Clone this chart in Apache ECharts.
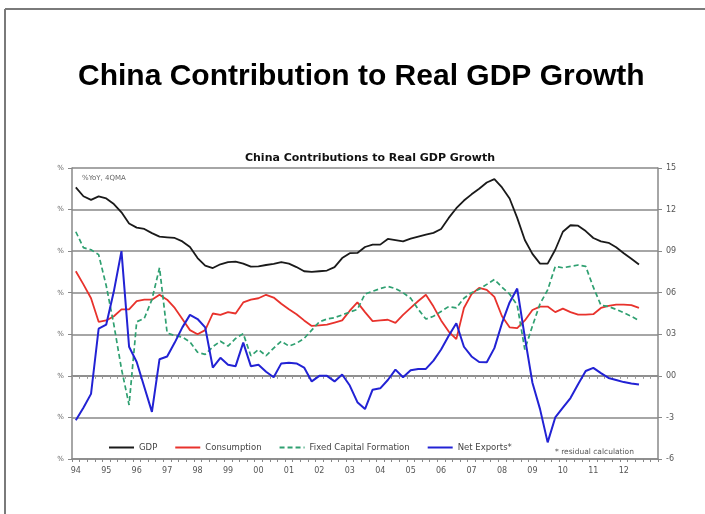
<!DOCTYPE html>
<html>
<head>
<meta charset="utf-8">
<script src="https://cdn.jsdelivr.net/npm/echarts@6/dist/echarts.min.js"></script>
<style>
  html, body { margin: 0; padding: 0; background: #fff; }
  #chart { width: 705px; height: 514px; }
</style>
</head>
<body>
<div id="chart"></div>
<script>
// year labels, one per Q1 (axis runs 94Q1 .. 13Q1, last label left blank)
const years = ['94', '95', '96', '97', '98', '99', '00', '01', '02', '03', '04', '05', '06', '07', '08', '09', '10', '11', '12', '13'];
const quarters = ['Q1', 'Q2', 'Q3', 'Q4'];

// %YoY, 4QMA, quarterly from 94Q1 to 12Q3
const gdp = [13.6, 12.96, 12.7, 12.95, 12.8, 12.4, 11.8, 11.0, 10.7, 10.6, 10.3, 10.05, 10.0, 9.95, 9.7, 9.3,
  8.5, 7.95, 7.78, 8.05, 8.2, 8.25, 8.1, 7.88, 7.9, 8.0, 8.08, 8.2, 8.1, 7.85, 7.55, 7.5,
  7.55, 7.6, 7.85, 8.5, 8.85, 8.87, 9.3, 9.47, 9.47, 9.88, 9.8, 9.71, 9.9, 10.05, 10.19, 10.32,
  10.6, 11.4, 12.1, 12.65, 13.1, 13.5, 13.95, 14.2, 13.6, 12.8, 11.4, 9.8, 8.8, 8.1, 8.1, 9.1,
  10.4, 10.87, 10.84, 10.45, 9.95, 9.7, 9.6, 9.28, 8.85, 8.45, 8.03];
const consumption = [7.55, 6.6, 5.6, 3.9, 4.0, 4.3, 4.8, 4.8, 5.4, 5.5, 5.5, 5.85, 5.5, 4.9, 4.1, 3.3,
  3.0, 3.3, 4.5, 4.4, 4.6, 4.5, 5.3, 5.5, 5.6, 5.85, 5.65, 5.2, 4.8, 4.45, 4.0, 3.6,
  3.65, 3.7, 3.85, 4.0, 4.7, 5.3, 4.6, 3.95, 4.0, 4.05, 3.82, 4.4, 4.9, 5.4, 5.85, 5.0,
  4.0, 3.2, 2.65, 4.9, 5.9, 6.35, 6.2, 5.7, 4.3, 3.5, 3.45, 4.0, 4.75, 5.0, 5.0, 4.6,
  4.85, 4.6, 4.42, 4.42, 4.45, 4.9, 5.05, 5.14, 5.14, 5.1, 4.9];
const fixedCapital = [10.4, 9.25, 9.1, 8.75, 6.5, 3.7, 0.5, -2.1, 3.9, 4.15, 5.5, 7.8, 3.1, 2.9, 2.8, 2.45,
  1.7, 1.55, 2.1, 2.5, 2.15, 2.7, 3.05, 1.45, 1.9, 1.45, 2.0, 2.5, 2.15, 2.35, 2.7, 3.3,
  3.9, 4.1, 4.2, 4.4, 4.6, 4.8, 5.9, 6.1, 6.3, 6.46, 6.3, 6.0, 5.6, 4.8, 4.1, 4.3,
  4.65, 5.0, 4.9, 5.6, 6.0, 6.25, 6.6, 6.95, 6.4, 5.9, 5.1, 1.9, 3.6, 5.2, 6.2, 7.9,
  7.8, 7.9, 8.0, 7.9, 6.4, 5.1, 5.0, 4.8, 4.55, 4.3, 4.0];
const netExports = [-3.2, -2.3, -1.3, 3.4, 3.7, 6.1, 9.0, 2.1, 1.0, -0.8, -2.6, 1.2, 1.4, 2.4, 3.5, 4.4,
  4.1, 3.5, 0.6, 1.3, 0.8, 0.7, 2.4, 0.7, 0.8, 0.3, -0.1, 0.9, 0.95, 0.9, 0.6, -0.4,
  0.0, 0.0, -0.4, 0.1, -0.7, -1.9, -2.4, -1.0, -0.9, -0.3, 0.45, -0.1, 0.4, 0.5, 0.5, 1.1,
  1.9, 2.9, 3.8, 2.1, 1.4, 1.0, 0.98, 2.0, 3.8, 5.3, 6.3, 2.8, -0.5, -2.4, -4.8, -3.0,
  -2.3, -1.6, -0.6, 0.35, 0.58, 0.2, -0.15, -0.3, -0.45, -0.55, -0.63];

const rightTicks = { '15': '15', '12': '12', '9': '09', '6': '06', '3': '03', '0': '00', '-3': '-3', '-6': '-6' };

const categories = [];
years.forEach(y => quarters.forEach(q => categories.push(y + q)));
categories.length = 77;

const chart = echarts.init(document.getElementById('chart'));

const axisGray = '#888';
const smallText = { fontFamily: 'DejaVu Sans', fontSize: 8, color: '#555' };

const option = {
  backgroundColor: '#fff',
  animation: false,
  title: [
    {
      text: 'China Contribution to Real GDP Growth',
      left: 73, top: 57,
      textStyle: { fontFamily: 'Liberation Sans', fontWeight: 'bold', fontSize: 30, color: '#000' }
    },
    {
      text: 'China Contributions to Real GDP Growth',
      left: 365, top: 148, textAlign: 'center',
      textStyle: { fontFamily: 'DejaVu Sans', fontWeight: 'bold', fontSize: 11, color: '#111' }
    }
  ],
  graphic: [
    { type: 'line', shape: { x1: 5, y1: 9, x2: 705, y2: 9 }, style: { stroke: '#7a7a7a', lineWidth: 2 } },
    { type: 'line', shape: { x1: 5, y1: 9, x2: 5, y2: 514 }, style: { stroke: '#7a7a7a', lineWidth: 2 } },
    { type: 'text', left: 82, top: 175, style: { text: '%YoY, 4QMA', font: '7px "DejaVu Sans"', fill: '#666' } },
    { type: 'text', left: 555, top: 448, style: { text: '* residual calculation', font: '7.5px "DejaVu Sans"', fill: '#555' } }
  ],
  legend: {
    left: 103, top: 438,
    itemWidth: 25, itemHeight: 10, itemGap: 17,
    itemStyle: { opacity: 0 },
    textStyle: { fontFamily: 'DejaVu Sans', fontSize: 8.5, color: '#444' },
    data: ['GDP', 'Consumption', 'Fixed Capital Formation', 'Net Exports*']
  },
  grid: { left: 72, right: 47, top: 168, bottom: 55 },
  xAxis: [
    {
      type: 'category', data: categories, boundaryGap: true,
      axisLine: { onZero: false, lineStyle: { color: axisGray, width: 1.5 } },
      axisTick: { show: true, interval: 0, length: 3, lineStyle: { color: axisGray } },
      axisLabel: {
        interval: 3, margin: 8,
        formatter: v => (v.slice(0, 2) === years[years.length - 1] ? '' : v.slice(0, 2)),
        ...smallText
      },
      splitLine: { show: false }
    },
    {
      type: 'category', data: categories, boundaryGap: true, position: 'bottom',
      axisLine: { onZero: true, lineStyle: { color: axisGray, width: 1.5 } },
      axisTick: { show: true, interval: 0, length: 3, lineStyle: { color: '#999' } },
      axisLabel: { show: false },
      splitLine: { show: false }
    }
  ],
  yAxis: [
    {
      type: 'value', min: -6, max: 15, interval: 3, position: 'left',
      axisLine: { show: true, lineStyle: { color: axisGray, width: 1.5 } },
      axisTick: { show: true, length: 4, lineStyle: { color: axisGray } },
      axisLabel: { formatter: () => '%', margin: 8, fontFamily: 'DejaVu Sans', fontSize: 7, color: '#666' },
      splitLine: { show: true, lineStyle: { color: axisGray, width: 1.6 } }
    },
    {
      type: 'value', min: -6, max: 15, interval: 3, position: 'right',
      axisLine: { show: true, lineStyle: { color: axisGray, width: 1.5 } },
      axisTick: { show: true, length: 4, lineStyle: { color: axisGray } },
      axisLabel: { formatter: v => rightTicks[String(v)] || String(v), margin: 8, ...smallText },
      splitLine: { show: false }
    }
  ],
  series: [
    {
      name: 'GDP', type: 'line', data: gdp, symbol: 'none',
      lineStyle: { color: '#1a1a1a', width: 1.8 }, itemStyle: { color: '#1a1a1a' }
    },
    {
      name: 'Consumption', type: 'line', data: consumption, symbol: 'none',
      lineStyle: { color: '#e8322c', width: 1.8 }, itemStyle: { color: '#e8322c' }
    },
    {
      name: 'Fixed Capital Formation', type: 'line', data: fixedCapital, symbol: 'none',
      lineStyle: { color: '#2fa071', width: 1.7, type: [5, 3] }, itemStyle: { color: '#2fa071' }
    },
    {
      name: 'Net Exports*', type: 'line', data: netExports, symbol: 'none',
      lineStyle: { color: '#2222d4', width: 2 }, itemStyle: { color: '#2222d4' }
    }
  ]
};

chart.setOption(option);
</script>
</body>
</html>
